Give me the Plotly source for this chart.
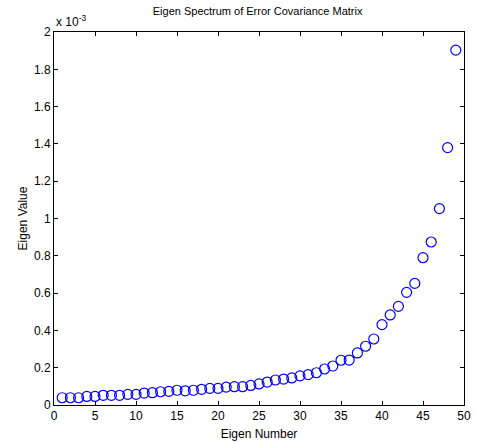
import plotly.graph_objects as go

# Eigen values in units of 1e-3
eigen_number = list(range(1, 50))
eigen_value_e3 = [0.039, 0.039, 0.039, 0.046, 0.046, 0.052, 0.052, 0.052, 0.057, 0.057,
                  0.064, 0.066, 0.071, 0.073, 0.079, 0.076, 0.079, 0.084, 0.089, 0.089,
                  0.096, 0.098, 0.098, 0.105, 0.113, 0.123, 0.134, 0.139, 0.145, 0.156,
                  0.163, 0.173, 0.193, 0.209, 0.240, 0.241, 0.279, 0.315, 0.354, 0.431,
                  0.483, 0.529, 0.604, 0.652, 0.790, 0.874, 1.053, 1.380, 1.903]
x_ticks = list(range(0, 51, 5))
y_ticks = [0, 0.2, 0.4, 0.6, 0.8, 1.0, 1.2, 1.4, 1.6, 1.8, 2.0]
y_ticklabels = ["0", "0.2", "0.4", "0.6", "0.8", "1", "1.2", "1.4", "1.6", "1.8", "2"]

FONT = "Liberation Sans, Arial, sans-serif"

fig = go.Figure()
fig.add_trace(go.Scatter(
    x=eigen_number, y=eigen_value_e3, mode="markers",
    marker=dict(symbol="circle-open", size=10, color="#0000ff", line=dict(width=1.2, color="#0000ff")),
    showlegend=False, hoverinfo="x+y"))

axis_common = dict(showline=True, linecolor="black", linewidth=1, mirror="allticks",
                   ticks="inside", ticklen=4, tickcolor="black", showgrid=False, zeroline=False,
                   automargin=False,
                   tickfont=dict(family=FONT, size=12, color="black"))

fig.update_layout(
    width=477, height=442,
    margin=dict(l=54, r=13, t=32, b=37),
    paper_bgcolor="white", plot_bgcolor="white",
    font=dict(family=FONT, size=12, color="black"),
    title=dict(text="Eigen Spectrum of Error Covariance Matrix", x=0.54, xanchor="center",
               y=0.975, yanchor="middle", font=dict(family=FONT, size=11, color="black")),
    xaxis=dict(range=[0, 50], tickvals=x_ticks, **axis_common,
               title=dict(text="Eigen Number", font=dict(family=FONT, size=12), standoff=7)),
    yaxis=dict(range=[0, 2], tickvals=y_ticks, ticktext=y_ticklabels, **axis_common,
               title=dict(text="Eigen Value", font=dict(family=FONT, size=12), standoff=3)),
)
fig.add_annotation(text="x 10<sup>-3</sup>", xref="paper", yref="paper", x=0, y=1,
                   xanchor="left", yanchor="bottom", showarrow=False, yshift=1,
                   font=dict(family=FONT, size=12, color="black"))

fig.write_html("out.html")
